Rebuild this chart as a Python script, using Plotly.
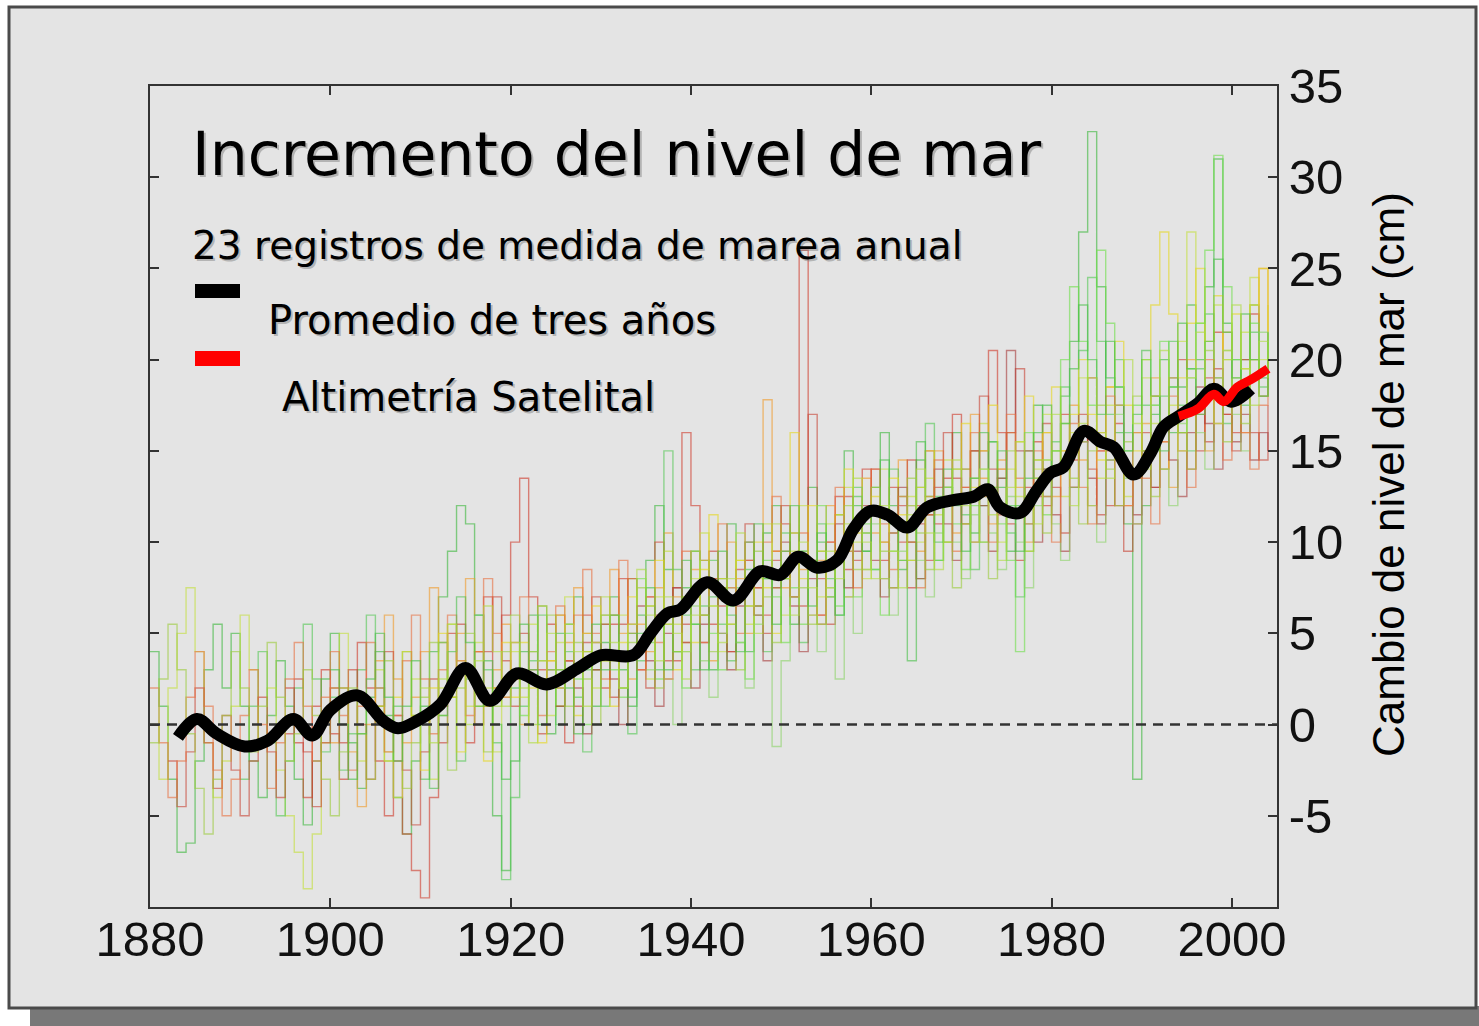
import plotly.graph_objects as go

# ---------------- data ----------------
x_range = [1880, 2005]
y_range = [-10, 35]
x_ticks = [1880, 1900, 1920, 1940, 1960, 1980, 2000]
y_ticks = [-5, 0, 5, 10, 15, 20, 25, 30, 35]
y_ticklabels = ["-5", "0", "5", "10", "15", "20", "25", "30", "35"]

# three-year average (cm)
avg_years = [1883.1, 1885.2, 1887.4, 1890.5, 1893.0, 1895.9, 1898.0, 1900.0, 1903.0, 1905.9,
             1907.5, 1909.6, 1912.2, 1915.0, 1917.7, 1920.7, 1924.0, 1927.5, 1930.0, 1933.6,
             1935.5, 1937.4, 1938.8, 1941.8, 1944.7, 1947.7, 1949.9, 1951.9, 1954.0, 1956.2,
             1958.0, 1959.9, 1961.8, 1964.0, 1966.2, 1969.1, 1971.4, 1972.9, 1974.3, 1976.5,
             1978.3, 1979.9, 1981.3, 1983.6, 1985.4, 1986.9, 1989.1, 1991.0, 1992.4, 1994.1,
             1996.2, 1998.0, 1999.9, 2002.1]
avg_vals = [-0.7, 0.3, -0.5, -1.2, -0.9, 0.3, -0.6, 0.8, 1.6, 0.2,
            -0.2, 0.2, 1.1, 3.1, 1.3, 2.8, 2.2, 3.1, 3.8, 3.8,
            5.0, 6.1, 6.3, 7.8, 6.8, 8.4, 8.2, 9.2, 8.6, 9.0,
            10.7, 11.7, 11.5, 10.8, 11.9, 12.3, 12.5, 12.9, 11.9, 11.6,
            12.8, 13.8, 14.1, 16.1, 15.5, 15.2, 13.7, 14.9, 16.3, 16.9,
            17.6, 18.4, 17.7, 18.4]

# satellite altimetry (cm)
sat_years = [1994.1, 1996.2, 1998.0, 1999.1, 2000.6, 2002.1, 2004.0]
sat_vals = [16.9, 17.3, 18.1, 17.7, 18.5, 18.9, 19.5]

# individual annual tide gauge records (mm), start year + values
g1_start = 1880
g1_mm = [40, 10, -30, -70, -65, -20, 30, 55, 20, 50,
         10, -20, -40, 5, 35, 10, -30, -55, -20, 25,
         50, 20, -10, -35, 15, 40, 5, -40, -60, -20,
         10, 40, 70, 95, 120, 110, 60, 10, -50, -80,
         -20, 40, 60, 25, -5, 30, 55, 70, 40, 10,
         45, 70, 30, 10, 60, 90, 120, 85, 40, 75,
         95, 60, 30, 80, 110, 70, 40, 65, 105, 120,
         80, 55, 95, 130, 100, 70, 115, 150, 120, 95,
         130, 160, 120, 85, 110, 145, 125, 90, 130, 160,
         140, 105, 120, 155, 130, 95, 120, 150, 175, 140,
         150, 180, 210, 270, 325, 240, 190, 160, 110, -30,
         120, 170, 200, 160, 185, 230, 200, 240, 310, 220,
         180, 200, 230, 190, 210]
g2_start = 1895
g2_mm = [20, -10, -40, 10, 30,
         -5, -30, 15, 45, 20, -20, -50, -20, -60, -80,
         -95, -40, 10, 50, 30, -10, 40, 70, 20, 60,
         100, 135, 70, 30, 55, 20, -10, 30, 60, 45,
         20, 55, 80, 50, 30, 70, 100, 60, 35, 160,
         120, 90, 55, 75, 40, 70, 100, 85, 60, 95,
         110, 70, 260, 90, 60, 100, 125, 85, 110, 140,
         115, 90, 130, 100, 75, 120, 150, 110, 135, 170,
         130, 100, 150, 205, 160, 110, 90, 130, 155, 120,
         140, 170, 130, 155, 190, 150, 120, 165, 140, 110,
         150, 180, 140, 165, 200, 175, 150, 190, 215, 170,
         160, 200, 225, 180, 190]
g3_start = 1880
g3_mm = [0, -30, 20, 50, 75, 40, -10, -40, -20, 10,
         60, 30, -10, 20, -25, -50, -70, -90, -60, -10,
         20, 50, 15, -20, 10, 30, -15, -40, 0, 25,
         5, -30, 20, 55, 35, 10, 45, 20, -15, 15,
         40, 15, 55, 35, 5, 45, 70, 30, 50, 20,
         55, 35, 60, 80, 45, 25, 70, 95, 55, 40,
         80, 105, 65, 40, 70, 90, 55, 80, 110, 75,
         60, 95, 120, 85, 70, 110, 90, 130, 100, 80,
         120, 140, 105, 90, 125, 100, 135, 115, 145, 125,
         110, 150, 165, 130, 100, 140, 125, 95, 140, 170,
         150, 125, 160, 190, 160, 135, 175, 150, 125, 160,
         190, 165, 140, 175, 210, 270, 220, 180, 230, 200,
         175, 215, 245, 200, 230]
g4_start = 1900
g4_mm = [-10, 20, -15, -45, 0, 35, 60, 25, -10, 15,
         40, 75, 45, 15, 50, 80, 40, 10, 30, 55,
         25, 0, 40, 65, 35, 10, 45, 75, 50, 30,
         60, 85, 50, 25, 55, 40, 75, 105, 70, 45,
         85, 60, 35, 70, 100, 80, 50, 75, 178, 95,
         75, 105, 85, 60, 90, 120, 95, 70, 110, 135,
         105, 80, 115, 145, 120, 95, 125, 150, 130, 105,
         140, 170, 135, 110, 145, 160, 130, 100, 135, 160,
         125, 150, 175, 145, 120, 160, 185, 150, 120, 140,
         165, 190, 155, 130, 170, 200, 175, 150, 190, 215,
         185, 160, 200, 250, 190]
g5_start = 1890
g5_mm = [-30, 10, 40, -10, -50, -20, 20, 55, 25, -15,
         15, -25, -5, 30, 60, 20, -20, 10, 40, 5,
         -30, 10, 45, 15, -20, 25, 60, 30, -10, -85,
         -40, 10, 35, 60, 25, 0, 40, 15, -15, 30,
         10, 40, 20, -5, 35, 65, 30, 150, 85, 60,
         30, 65, 90, 55, 35, 75, 100, 65, 40, 80,
         105, 70, 45, 85, 110, 80, 60, 100, 130, 105,
         85, 115, 140, 110, 90, 130, 165, 125, 100, 140,
         115, 85, 125, 155, 135, 105, 70, 110, 145, 125,
         155, 185, 150, 205, 245, 210, 170, 200, 160, 135,
         175, 150, 180, 210, 175, 150, 195, 225, 190, 165,
         200, 175, 215, 185, 200]
g6_start = 1882
g6_mm = [-20, -45, -15, 20, -10, -35, 5, -25,
         -50, -20, 15, -15, -40, -5, 25, -15, -45, -10,
         20, -10, 30, 0, -30, 10, 40, 5, -25, -55,
         -15, 25, -10, 20, 55, 30, 0, 40, 70, 35,
         10, 50, 25, -5, 30, 60, 35, 10, 45, 70,
         40, 15, 55, 80, 45, 20, 60, 35, 75, 55,
         70, 45, 95, 65, 40, 85, 110, 75, 50, 90,
         120, 90, 65, 170, 80, 55, 95, 125, 90, 115,
         140, 100, 75, 120, 145, 110, 90, 130, 160, 135,
         110, 150, 180, 140, 115, 160, 195, 150, 125, 165,
         130, 105, 145, 170, 140, 115, 150, 120, 95, 135,
         160, 130, 165, 190, 160, 140, 180, 155, 195, 170,
         150, 185, 160, 145, 175]
g7_start = 1905
g7_mm = [10, -20, 15, 40, 5,
         -25, 20, 50, 15, -15, 30, 10, -20, 20, 45,
         15, 45, 20, -10, 35, 60, 30, 5, 40, 65,
         35, 10, 45, 70, 40, 65, 90, 55, 30, 70,
         45, 85, 115, 80, 55, 90, 65, 100, 75, 50,
         85, 160, 80, 120, 95, 75, 115, 140, 105, 85,
         125, 100, 135, 115, 90, 130, 150, 120, 100, 140,
         165, 130, 150, 175, 140, 115, 155, 180, 145, 160,
         185, 150, 170, 200, 170, 145, 185, 210, 175, 150,
         200, 230, 270, 225, 190, 220, 250, 210, 235, 205,
         225, 195, 230, 250, 210]
g8_start = 1920
g8_mm = [30, 5, 40, 65, 30, 10, 50, 25, 0, 35,
         60, 30, 15, 50, 80, 45, 25, 60, 40, 20,
         55, 80, 50, 30, 65, 45, 25, 60, 90, 70,
         45, 75, 55, 90, 120, 85, 65, 95, 70, 110,
         85, 60, 95, 125, 100, 80, 115, 90, 130, 110,
         85, 120, 100, 130, 110, 90, 40, 160, 135, 115,
         150, 200, 240, 210, 175, 260, 220, 185, 150, 175,
         200, 175, 210, 185, 160, 195, 220, 260, 312, 240,
         200, 185, 220, 195, 210]
g9_start = 1925
g9_mm = [10, 35, 20, -5, 30,
         55, 25, 0, 40, 65, 35, 10, 50, 75, 45,
         20, 55, 80, 50, 30, 65, 90, 60, 35, 75,
         100, 65, 40, 80, 55, 85, 110, 75, 95, 120,
         90, 70, 105, 130, 100, 80, 115, 140, 110, 90,
         125, 150, 120, 95, 135, 205, 150, 120, 100, 140,
         115, 95, 130, 160, 135, 110, 145, 175, 140, 115,
         150, 130, 165, 145, 125, 160, 185, 165, 140, 175,
         155, 170, 145, 160, 150]
g10_start = 1935
g10_mm = [30, 55, 25, 0, 40,
          65, 35, 15, 50, 75, 45, 20, 55, 80, -12,
          35, 70, 95, 60, 40, 75, 25, 70, 50, 85,
          110, 80, 60, 95, 120, 90, 70, 105, 130, 100,
          80, 115, 140, 105, 85, 125, 100, 75, 120, 145,
          110, 90, 130, 155, 120, 100, 145, 170, 135, 110,
          150, 175, 140, 120, 165, 190, 160, 140, 180, 205,
          170, 150, 190, 215, 180]
g11_start = 1880
g11_mm = [20, -10, -40, -20, 15, 40, 10, -25, -50, -30,
          5, 30, 0, -35, -10, 25, 45, 10, -20, 15,
          40, 5, -25, 10, 45, 20, -15, 5, 35, 60,
          25, -5, 30, 60, 35, 5, 40, 80, 50, 15,
          45, 70, 30, 5, 40, 65, 35, 60, 85, 50,
          25, 60, 90, 55, 30, 70, 45, 25, 60, 95,
          70, 45, 80, 110, 75, 50, 90, 65, 100, 125,
          95, 70, 105, 85, 60, 100, 130, 95, 75, 115,
          140, 110, 85, 125, 100, 75, 115, 145, 120, 95,
          130, 160, 125, 100, 140, 170, 135, 110, 150, 125,
          100, 140, 165, 130, 110, 150, 180, 145, 120, 160,
          135, 110, 155, 180, 150, 130, 170, 200, 165, 145,
          185, 160, 140, 175, 200]
g12_start = 1880
g12_mm = [-10, 25, 55, 30, -5, -35, -60, -30, 5, 40,
          20, -15, 10, 45, 15, -20, -5, 30, 5, -30,
          -50, -15, 20, -5, -30, 10, 35, 0, -35, -10,
          15, 45, 5, -25, 20, 50, 20, -15, 10, 40,
          60, 25, 0, 35, 60, 30, 10, 45, 25, 0,
          35, 60, 20, 45, 75, 50, 20, 55, 40, 70,
          95, 60, 40, 75, 55, 30, 65, 95, 70, 45,
          80, 105, 75, 55, 95, 70, 90, 120, 85, 105,
          130, 95, 75, 110, 135, 105, 85, 120, 100, 75,
          110, 135, 100, 80, 120, 150, 115, 95, 130, 105,
          140, 165, 135, 110, 150, 175, 140, 120, 155, 180,
          150, 125, 165, 190, 160, 140, 175, 205, 180, 155,
          190, 165, 200, 180, 205]
g13_start = 1900
g13_mm = [30, 0, -30, -5, 25, 50, 15, -20, 10, 35,
          0, -35, 5, 40, 70, 45, 10, 35, 0, -30,
          20, 55, 30, 0, 25, 50, 20, -5, 30, 55,
          30, 60, 40, 15, 50, 75, 55, 30, 65, 90,
          55, 30, 70, 95, 60, 40, 85, 110, 80, 55,
          95, 120, 90, 65, 105, 85, 60, 100, 125, 95,
          115, 145, 110, 90, 35, 155, 120, 100, 140, 120,
          95, 135, 160, 125, 150, 120, 95, 135, 160, 175,
          140, 165, 195, 230, 200, 170, 210, 185, 150, 170,
          205, 180, 150, 185, 220, 195, 170, 210, 255, 215,
          190, 225, 200, 180, 215]
g14_start = 1910
g14_mm = [20, -10, 25, 55, 30, 0, 35, 65, 40, 10,
          45, 20, -10, 25, 50, 20, 55, 40, 10, 45,
          70, 45, 20, 55, 85, 60, 35, 70, 50, 25,
          60, 90, 65, 45, 80, 105, 75, 50, 85, 110,
          80, 60, 100, 75, 55, 95, 80, 110, 135, 100,
          80, 120, 95, 75, 115, 140, 105, 85, 125, 145,
          120, 100, 140, 115, 90, 130, 155, 125, 110, 145,
          170, 140, 120, 165, 190, 160, 135, 175, 200, 165,
          140, 180, 205, 170, 150, 190, 215, 185, 165, 200,
          230, 195, 175, 210, 190]

gauge_colors = ["#3cb83c", "#d03a2a", "#c4e03c", "#f09a28", "#55c855", "#c84434",
                "#e6d81e", "#6ee04a", "#a83a3a", "#8cd468", "#e87040", "#9ccc3c",
                "#48c048", "#b0dc40"]

title_text = "Incremento del nivel de mar"
subtitle_text = "23 registros de medida de marea anual"
avg_label = "Promedio de tres años"
sat_label = "Altimetría Satelital"
y_title = "Cambio de nivel de mar (cm)"

# ---------------- figure ----------------
W, H = 1479, 1026
L, R, T, B = 150, 1277, 86, 907


def px(x):
    return (x - L) / (R - L)


def py(y):
    return (B - y) / (B - T)


gauges = [(g1_start, g1_mm), (g2_start, g2_mm), (g3_start, g3_mm), (g4_start, g4_mm),
          (g5_start, g5_mm), (g6_start, g6_mm), (g7_start, g7_mm), (g8_start, g8_mm),
          (g9_start, g9_mm), (g10_start, g10_mm), (g11_start, g11_mm), (g12_start, g12_mm),
          (g13_start, g13_mm), (g14_start, g14_mm)]

fig = go.Figure()
for (start, vals), col in zip(gauges, gauge_colors):
    yrs = list(range(start, start + len(vals)))
    fig.add_trace(go.Scatter(x=yrs, y=[v / 10 for v in vals], mode="lines",
                             line=dict(color=col, width=1.4, shape="hv"),
                             opacity=0.6, hoverinfo="skip", showlegend=False))

# zero reference line
fig.add_trace(go.Scatter(x=x_range, y=[0, 0], mode="lines",
                         line=dict(color="#333333", width=2.5, dash="10px,7px"),
                         hoverinfo="skip", showlegend=False))

fig.add_trace(go.Scatter(x=avg_years, y=avg_vals, mode="lines",
                         line=dict(color="black", width=12, shape="spline", smoothing=1.0),
                         showlegend=False))
fig.add_trace(go.Scatter(x=sat_years, y=sat_vals, mode="lines",
                         line=dict(color="#ff0000", width=9, shape="spline", smoothing=1.0),
                         showlegend=False))

axis_common = dict(showline=True, linecolor="#333333", linewidth=2, mirror="ticks",
                   ticks="inside", ticklen=9, tickwidth=2, tickcolor="#333333",
                   showgrid=False, zeroline=False,
                   tickfont=dict(family="Liberation Sans, Arial, sans-serif", size=49, color="#111111"))

fig.update_xaxes(range=x_range, tickvals=x_ticks, ticklabelstandoff=-12, **axis_common)
fig.update_yaxes(range=y_range, tickvals=y_ticks, ticktext=y_ticklabels, side="right",
                 **axis_common)

shapes = [
    dict(type="rect", xref="paper", yref="paper", x0=px(30), x1=px(1479), y0=py(1026), y1=py(1006),
         fillcolor="#787878", line=dict(width=0), layer="below"),
    dict(type="rect", xref="paper", yref="paper", x0=px(9), x1=px(1476), y0=py(1008), y1=py(7),
         fillcolor="#e4e4e4", line=dict(color="#4a4a4a", width=3), layer="below"),
    dict(type="rect", xref="paper", yref="paper", x0=px(195), x1=px(240), y0=py(298), y1=py(284),
         fillcolor="black", line=dict(width=0)),
    dict(type="rect", xref="paper", yref="paper", x0=px(195), x1=px(240), y0=py(366), y1=py(351),
         fillcolor="#ff0000", line=dict(width=0)),
]

annotations = []


def add_text(text, x, y, size, family, **kw):
    for col, dx, dy in (("rgba(120,120,120,0.45)", 2, -2), ("black", 0, 0)):
        annotations.append(dict(text=text, x=px(x), y=py(y), xref="paper", yref="paper",
                                showarrow=False, xshift=dx, yshift=dy,
                                font=dict(family=family, size=size, color=col), **kw))


add_text(title_text, 190, 154, 60, "DejaVu Sans", xanchor="left", yanchor="middle")
add_text(subtitle_text, 190, 245, 39, "DejaVu Sans", xanchor="left", yanchor="middle")
add_text(avg_label, 266, 320, 40, "DejaVu Sans", xanchor="left", yanchor="middle")
add_text(sat_label, 280, 397, 40, "DejaVu Sans", xanchor="left", yanchor="middle")
annotations.append(dict(text=y_title, x=px(1388), y=py(475), xref="paper", yref="paper",
                        showarrow=False, textangle=-90, xanchor="center", yanchor="middle",
                        font=dict(family="Liberation Sans, Arial, sans-serif", size=44, color="black")))

fig.update_layout(width=W, height=H, autosize=False,
                  margin=dict(l=L, r=W - R, t=T, b=H - B, pad=0),
                  paper_bgcolor="white", plot_bgcolor="rgba(0,0,0,0)",
                  shapes=shapes, annotations=annotations, showlegend=False)

fig.write_html("out.html", config={"displayModeBar": False},
               post_script="document.body.style.margin='0';document.body.style.overflow='hidden';")
